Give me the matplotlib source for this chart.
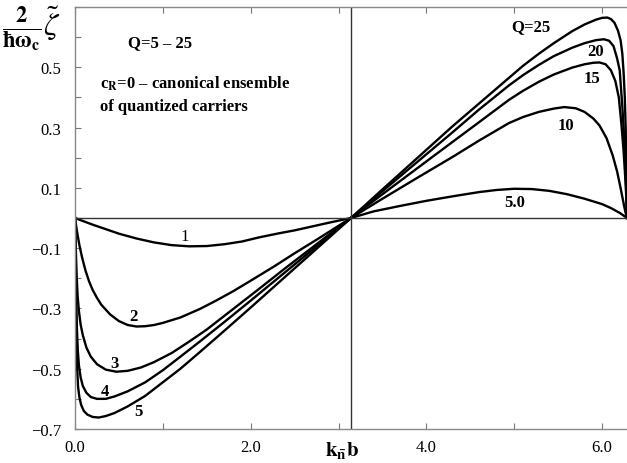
import numpy as np
import matplotlib
matplotlib.use("Agg")
import matplotlib.pyplot as plt

plt.rcParams['font.family'] = ['Liberation Serif', 'DejaVu Serif']
plt.rcParams['mathtext.fontset'] = 'stix'

PI = np.pi

# left half (0..pi), curves labelled 1..5
x_c1 = [0, 0.1, 0.2, 0.35, 0.5, 0.7, 0.9, 1.1, 1.3, 1.5, 1.7, 1.9, 2.1, 2.3, 2.5, 2.7, 2.9, PI]
y_c1 = [0, -0.011, -0.022, -0.037, -0.052, -0.068, -0.081, -0.09, -0.094, -0.093, -0.087,
        -0.078, -0.064, -0.052, -0.041, -0.028, -0.015, 0]

x_c2 = [0, 0.02, 0.05, 0.08, 0.12, 0.16, 0.2, 0.25, 0.3, 0.4, 0.5, 0.6, 0.7, 0.8, 0.9, 1.0,
        1.2, 1.42, 1.6, 1.8, 2.0, 2.27, 2.5, 2.75, 3.0, PI]
y_c2 = [0, -0.04, -0.09, -0.13, -0.175, -0.21, -0.238, -0.265, -0.288, -0.32, -0.342, -0.355,
        -0.36, -0.359, -0.355, -0.348, -0.33, -0.302, -0.275, -0.243, -0.208, -0.16, -0.117,
        -0.072, -0.026, 0]

x_c3 = [0, 0.005, 0.012, 0.02, 0.03, 0.045, 0.065, 0.09, 0.13, 0.18, 0.25, 0.35, 0.47, 0.6,
        0.75, 0.9, 1.1, 1.3, 1.5, 1.8, 2.1, 2.4, 2.7, 3.0, PI]
y_c3 = [0, -0.06, -0.13, -0.2, -0.26, -0.31, -0.355, -0.39, -0.43, -0.46, -0.485, -0.503,
        -0.51, -0.507, -0.496, -0.478, -0.448, -0.41, -0.37, -0.302, -0.234, -0.165, -0.098,
        -0.031, 0]

x_c4 = [0, 0.004, 0.009, 0.015, 0.022, 0.032, 0.045, 0.065, 0.09, 0.13, 0.18, 0.25, 0.35,
        0.45, 0.6, 0.8, 1.0, 1.2, 1.42, 1.7, 2.0, 2.3, 2.6, 2.9, PI]
y_c4 = [0, -0.08, -0.18, -0.28, -0.37, -0.44, -0.49, -0.53, -0.558, -0.58, -0.594, -0.6,
        -0.6, -0.592, -0.575, -0.545, -0.505, -0.46, -0.41, -0.345, -0.274, -0.202, -0.13,
        -0.058, 0]

x_c5 = [0, 0.003, 0.006, 0.011, 0.017, 0.025, 0.035, 0.05, 0.07, 0.1, 0.14, 0.2, 0.27, 0.35,
        0.45, 0.6, 0.8, 1.0, 1.2, 1.42, 1.7, 2.0, 2.3, 2.6, 2.9, PI]
y_c5 = [0, -0.1, -0.2, -0.32, -0.42, -0.5, -0.56, -0.595, -0.62, -0.64, -0.652, -0.66,
        -0.662, -0.657, -0.647, -0.625, -0.59, -0.545, -0.5, -0.445, -0.374, -0.297, -0.219,
        -0.141, -0.063, 0]

# right half (pi..2pi), curves labelled by Q
x_q5 = [PI, 3.4, 3.7, 4.0, 4.3, 4.6, 4.8, 5.0, 5.2, 5.4, 5.6, 5.8, 6.0, 6.1, 6.2, 2 * PI]
y_q5 = [0, 0.022, 0.04, 0.057, 0.072, 0.086, 0.093, 0.097, 0.096, 0.09, 0.079, 0.064, 0.046,
        0.033, 0.017, 0]

x_q10 = [PI, 3.5, 3.9, 4.3, 4.6, 4.94, 5.1, 5.28, 5.45, 5.57, 5.7, 5.8, 5.9, 5.97, 6.05, 6.12,
         6.17, 6.21, 6.24, 6.265, 2 * PI]
y_q10 = [0, 0.064, 0.134, 0.203, 0.257, 0.315, 0.335, 0.352, 0.363, 0.368, 0.364, 0.352, 0.33,
         0.307, 0.265, 0.208, 0.155, 0.1, 0.055, 0.02, 0]

x_q15 = [PI, 3.5, 3.9, 4.3, 4.6, 4.94, 5.1, 5.28, 5.45, 5.66, 5.8, 5.9, 5.97, 6.04, 6.1, 6.15,
         6.19, 6.22, 6.245, 6.262, 6.275, 2 * PI]
y_q15 = [0, 0.079, 0.166, 0.253, 0.318, 0.392, 0.422, 0.452, 0.476, 0.499, 0.51, 0.515, 0.516,
         0.51, 0.49, 0.455, 0.4, 0.31, 0.22, 0.14, 0.07, 0]

x_q20 = [PI, 3.5, 3.9, 4.3, 4.6, 4.94, 5.1, 5.28, 5.45, 5.66, 5.8, 5.93, 6.02, 6.08, 6.13, 6.17,
         6.2, 6.23, 6.25, 6.265, 6.277, 2 * PI]
y_q20 = [0, 0.089, 0.187, 0.285, 0.36, 0.44, 0.474, 0.508, 0.537, 0.565, 0.58, 0.59, 0.593,
         0.588, 0.57, 0.53, 0.49, 0.37, 0.27, 0.17, 0.08, 0]

x_q25 = [PI, 3.5, 3.9, 4.3, 4.6, 4.94, 5.1, 5.28, 5.45, 5.66, 5.8, 5.93, 6.0, 6.06, 6.1, 6.14,
         6.18, 6.21, 6.23, 6.245, 6.258, 6.268, 6.275, 6.28, 2 * PI]
y_q25 = [0, 0.095, 0.2, 0.305, 0.38, 0.465, 0.505, 0.545, 0.58, 0.62, 0.642, 0.658, 0.664,
         0.665, 0.66, 0.648, 0.622, 0.59, 0.545, 0.48, 0.4, 0.3, 0.2, 0.1, 0]

curves = [(x_c1, y_c1), (x_c2, y_c2), (x_c3, y_c3), (x_c4, y_c4), (x_c5, y_c5),
          (x_q5, y_q5), (x_q10, y_q10), (x_q15, y_q15), (x_q20, y_q20), (x_q25, y_q25)]

# curve labels: text, x, y
labels = [("1", 1.25, -0.06), ("2", 0.67, -0.326), ("3", 0.45, -0.48), ("4", 0.34, -0.575),
          ("5", 0.72, -0.64), ("5.0", 5.0, 0.054), ("10", 5.59, 0.309), ("15", 5.88, 0.464),
          ("20", 5.92, 0.554), ("Q=25", 5.19, 0.637)]

fig = plt.figure(figsize=(6.27, 4.64), dpi=100)
ax = fig.add_axes([75 / 627, 1 - 430 / 464, 552 / 627, 422 / 464])

for xs, ys in curves:
    ax.plot(xs, ys, color='black', lw=1.7, solid_joinstyle='round')

ax.axhline(0, color='#333333', lw=1.0)
ax.axvline(PI, color='#333333', lw=1.0)

for txt, lx, ly in labels:
    weight = 'normal' if txt == "1" else 'bold'
    ax.text(lx, ly, txt, ha='center', va='center', fontsize=12, fontweight=weight)

ax.set_xlim(0, 2 * PI)
ax.set_ylim(-0.7, 0.7)
ax.set_xticks(np.arange(0, 7, 1.0))
ax.set_xticklabels(["0.0", "", "2.0", "", "4.0", "", "6.0"])
yt = np.round(np.arange(-0.7, 0.71, 0.1), 1)
ax.set_yticks(yt)
ax.set_yticklabels(["\u22120.7", "", "\u22120.5", "", "\u22120.3", "", "\u22120.1", "",
                    "0.1", "", "0.3", "", "0.5", "", ""])
ax.tick_params(direction='in', length=4, width=0.8, color='#777777', labelsize=12,
               top=True, right=False)
ax.tick_params(axis='y', pad=10)
ax.tick_params(axis='x', pad=7)

for side in ['left', 'bottom', 'top']:
    ax.spines[side].set_color('#888888')
    ax.spines[side].set_linewidth(1.0)
ax.spines['right'].set_visible(False)

ax.text(0.6, 0.583, "Q=5 \u2013 25", fontsize=12, fontweight='bold', va='center')
ax.text(0.285, 0.45, r"c$_\mathbf{R}$=0 " + "\u2013 canonical ensemble", fontsize=12,
        fontweight='bold', va='center')
ax.text(0.285, 0.372, "of quantized carriers", fontsize=12, fontweight='bold', va='center')

fig.text(2 / 627, 1 - 29 / 464, r"$\frac{\mathbf{2}}{\mathbf{\hbar\omega_c}}\tilde{\zeta}$",
         fontsize=23, va='center', ha='left')
fig.text(342 / 627, 1 - 451 / 464, r"$\mathbf{k_{\bar{n}}b}$", fontsize=15,
         ha='center', va='center')

fig.savefig("out.png", dpi=100)
